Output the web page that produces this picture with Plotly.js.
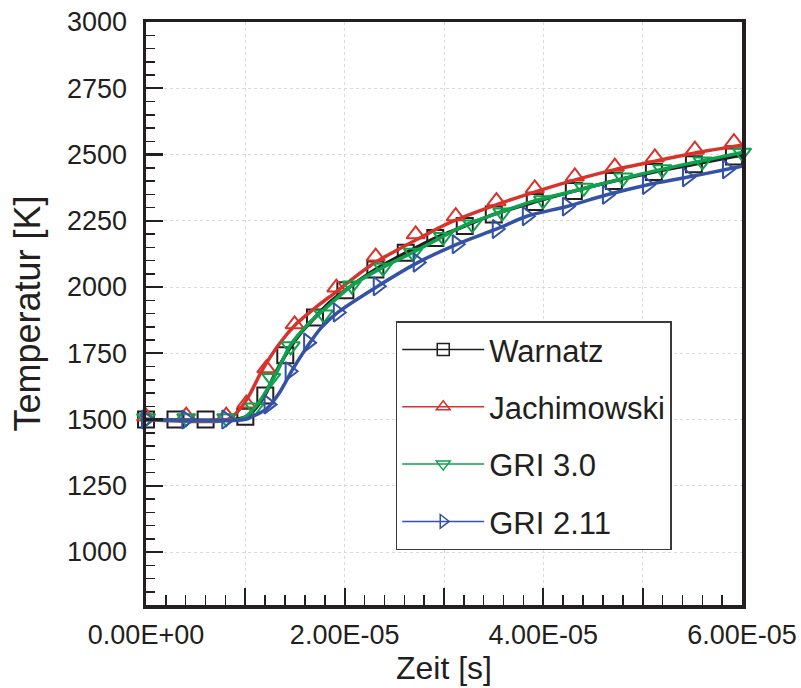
<!DOCTYPE html>
<html>
<head>
<meta charset="utf-8">
<script src="https://cdn.plot.ly/plotly-3.0.1.min.js"></script>
<style>
  html, body { margin: 0; padding: 0; background: #ffffff; }
  #chart { width: 801px; height: 688px; }
</style>
</head>
<body>
<div id="chart"></div>
<script>
// ---------- data (time in seconds, temperature in K) ----------
const seriesNames = ["Warnatz", "Jachimowski", "GRI 3.0", "GRI 2.11"];

// curves
const warnatzTime = [0, 0.892e-5, 0.992e-5, 1.093e-5, 1.200e-5, 1.295e-5, 1.403e-5, 1.547e-5, 1.701e-5, 1.849e-5, 2.007e-5, 2.309e-5, 2.615e-5, 2.912e-5, 3.209e-5, 3.501e-5, 3.914e-5, 4.307e-5, 4.710e-5, 5.113e-5, 5.516e-5, 5.919e-5, 6.0e-5];
const warnatzTemp = [1500, 1500, 1508, 1538, 1594, 1670, 1742, 1821, 1885, 1942, 1988, 2066, 2129, 2185, 2230, 2274, 2321, 2362, 2400, 2434, 2463, 2492, 2497];

const jachTime = [0, 0.821e-5, 0.942e-5, 1.043e-5, 1.174e-5, 1.345e-5, 1.516e-5, 1.718e-5, 1.919e-5, 2.121e-5, 2.322e-5, 2.725e-5, 3.058e-5, 3.531e-5, 3.935e-5, 4.338e-5, 4.720e-5, 5.123e-5, 5.526e-5, 6.0e-5];
const jachTemp = [1500, 1500, 1538, 1594, 1689, 1787, 1862, 1926, 1983, 2043, 2096, 2179, 2243, 2311, 2361, 2406, 2443, 2475, 2506, 2535];

const gri30Time = [0, 0.942e-5, 1.01e-5, 1.143e-5, 1.315e-5, 1.446e-5, 1.647e-5, 1.819e-5, 2.060e-5, 2.383e-5, 2.685e-5, 2.987e-5, 3.229e-5, 3.562e-5, 3.894e-5, 4.368e-5, 4.972e-5, 5.375e-5, 5.778e-5, 6.0e-5];
const gri30Temp = [1500, 1500, 1513, 1568, 1677, 1776, 1866, 1923, 2002, 2074, 2130, 2190, 2236, 2281, 2323, 2368, 2425, 2459, 2490, 2508];

const gri211Time = [0, 0.992e-5, 1.073e-5, 1.214e-5, 1.345e-5, 1.476e-5, 1.617e-5, 1.76e-5, 1.931e-5, 2.333e-5, 2.735e-5, 3.128e-5, 3.531e-5, 3.834e-5, 4.237e-5, 4.640e-5, 5.043e-5, 5.446e-5, 5.849e-5, 6.0e-5];
const gri211Temp = [1500, 1500, 1512, 1540, 1602, 1689, 1772, 1845, 1904, 2003, 2092, 2161, 2219, 2267, 2304, 2348, 2385, 2414, 2444, 2456];

// symbols
const warnatzMarkTime = [0, 0.297e-5, 0.600e-5, 1.000e-5, 1.201e-5, 1.402e-5, 1.701e-5, 2.007e-5, 2.309e-5, 2.615e-5, 2.912e-5, 3.209e-5, 3.501e-5, 3.914e-5, 4.307e-5, 4.710e-5, 5.113e-5, 5.516e-5, 5.919e-5];
const warnatzMarkTemp = [1500, 1500, 1500, 1510, 1591, 1742, 1885, 1988, 2066, 2129, 2185, 2230, 2274, 2321, 2362, 2400, 2434, 2463, 2492];

const jachMarkTime = [0, 0.405e-5, 0.808e-5, 1.010e-5, 1.211e-5, 1.496e-5, 1.916e-5, 2.312e-5, 2.715e-5, 3.118e-5, 3.528e-5, 3.914e-5, 4.317e-5, 4.720e-5, 5.123e-5, 5.526e-5, 5.919e-5];
const jachMarkTemp = [1511, 1515, 1515, 1560, 1693, 1859, 1998, 2115, 2199, 2267, 2324, 2372, 2417, 2454, 2489, 2518, 2547];

const gri30MarkTime = [0, 0.405e-5, 0.808e-5, 1.093e-5, 1.261e-5, 1.456e-5, 1.789e-5, 2.071e-5, 2.386e-5, 2.688e-5, 2.990e-5, 3.285e-5, 3.587e-5, 3.998e-5, 4.408e-5, 4.804e-5, 5.199e-5, 5.602e-5, 6.0e-5];
const gri30MarkTemp = [1505, 1505, 1505, 1545, 1657, 1776, 1896, 2006, 2073, 2129, 2189, 2236, 2281, 2327, 2375, 2413, 2444, 2474, 2507];

const gri211MarkTime = [0, 0.405e-5, 0.808e-5, 1.234e-5, 1.446e-5, 1.632e-5, 1.931e-5, 2.333e-5, 2.735e-5, 3.128e-5, 3.531e-5, 3.834e-5, 4.237e-5, 4.640e-5, 5.043e-5, 5.446e-5, 5.849e-5];
const gri211MarkTemp = [1500, 1500, 1500, 1557, 1682, 1790, 1904, 2003, 2092, 2161, 2219, 2267, 2304, 2348, 2385, 2414, 2444];

// axis ticks
const xTickVals = [0, 1e-5, 2e-5, 3e-5, 4e-5, 5e-5, 6e-5];
const xTickText = ["0.00E+00", "", "2.00E-05", "", "4.00E-05", "", "6.00E-05"];

// ---------- styling ----------
const ink = "#231f20";
const colors = ["#231f20", "#d8332b", "#0fa24c", "#3452a6"];
const symbols = ["square-open", "triangle-up-open", "triangle-down-open", "triangle-right-open"];
const font = "Liberation Sans, Arial, Helvetica, sans-serif";

const curves = [
  [warnatzTime, warnatzTemp, warnatzMarkTime, warnatzMarkTemp],
  [jachTime, jachTemp, jachMarkTime, jachMarkTemp],
  [gri30Time, gri30Temp, gri30MarkTime, gri30MarkTemp],
  [gri211Time, gri211Temp, gri211MarkTime, gri211MarkTemp]
];

const traces = [];
curves.forEach((c, i) => {
  traces.push({
    x: c[0], y: c[1], type: "scatter", mode: "lines",
    line: {color: colors[i], width: 3.5, shape: "spline", smoothing: 0.8},
    showlegend: false, hoverinfo: "skip", cliponaxis: false
  });
  traces.push({
    x: c[2], y: c[3], type: "scatter", mode: "markers",
    marker: {symbol: symbols[i], size: 16, color: colors[i], line: {width: 2, color: colors[i]}},
    showlegend: false, cliponaxis: false
  });
});
// legend entries
seriesNames.forEach((n, i) => {
  traces.push({
    x: [null], y: [null], type: "scatter", mode: "lines+markers", name: n,
    legendgroup: "g" + i,
    line: {color: colors[i], width: 1.5},
    marker: {symbol: symbols[i], size: 12, color: colors[i], line: {width: 1.5, color: colors[i]}}
  });
});

const layout = {
  width: 801, height: 688,
  margin: {l: 146, r: 59, t: 22, b: 83, pad: 0},
  paper_bgcolor: "#ffffff", plot_bgcolor: "#ffffff",
  font: {family: font, color: ink, size: 27},
  showlegend: true,
  legend: {
    x: 0.419, y: 0.4865, xanchor: "left", yanchor: "top",
    bgcolor: "#ffffff", bordercolor: "#3a3a3a", borderwidth: 1.5,
    font: {family: font, size: 31, color: ink},
    traceorder: "grouped", tracegroupgap: 14, itemwidth: 82
  },
  xaxis: {
    range: [0, 6e-5],
    tickmode: "array", tickvals: xTickVals, ticktext: xTickText,
    ticks: "inside", ticklen: 17, tickwidth: 2.2, tickcolor: ink,
    minor: {tickmode: "linear", tick0: 0, dtick: 2e-6, ticks: "inside", ticklen: 10, tickwidth: 1.5, tickcolor: ink, showgrid: false},
    showgrid: true, gridcolor: "#dadada", gridwidth: 1, griddash: "dot",
    showline: true, linecolor: ink, linewidth: 3.5, mirror: true,
    zeroline: false, automargin: false,
    tickfont: {family: font, size: 27, color: ink},
    ticklabelstandoff: 3,
    title: {text: "Zeit [s]", font: {family: font, size: 32, color: ink}, standoff: 6}
  },
  yaxis: {
    range: [800, 3000],
    tickmode: "linear", tick0: 0, dtick: 250,
    ticks: "inside", ticklen: 17, tickwidth: 2.2, tickcolor: ink,
    minor: {tickmode: "linear", tick0: 0, dtick: 50, ticks: "inside", ticklen: 9, tickwidth: 1.5, tickcolor: ink, showgrid: false},
    showgrid: true, gridcolor: "#dadada", gridwidth: 1, griddash: "dot",
    showline: true, linecolor: ink, linewidth: 3.5, mirror: true,
    zeroline: false, automargin: false,
    tickfont: {family: font, size: 27, color: ink},
    ticklabelstandoff: 10,
    title: {text: "Temperatur [K]", font: {family: font, size: 36, color: ink}, standoff: 16}
  }
};

Plotly.newPlot("chart", traces, layout, {displayModeBar: false, staticPlot: true});
</script>
</body>
</html>
